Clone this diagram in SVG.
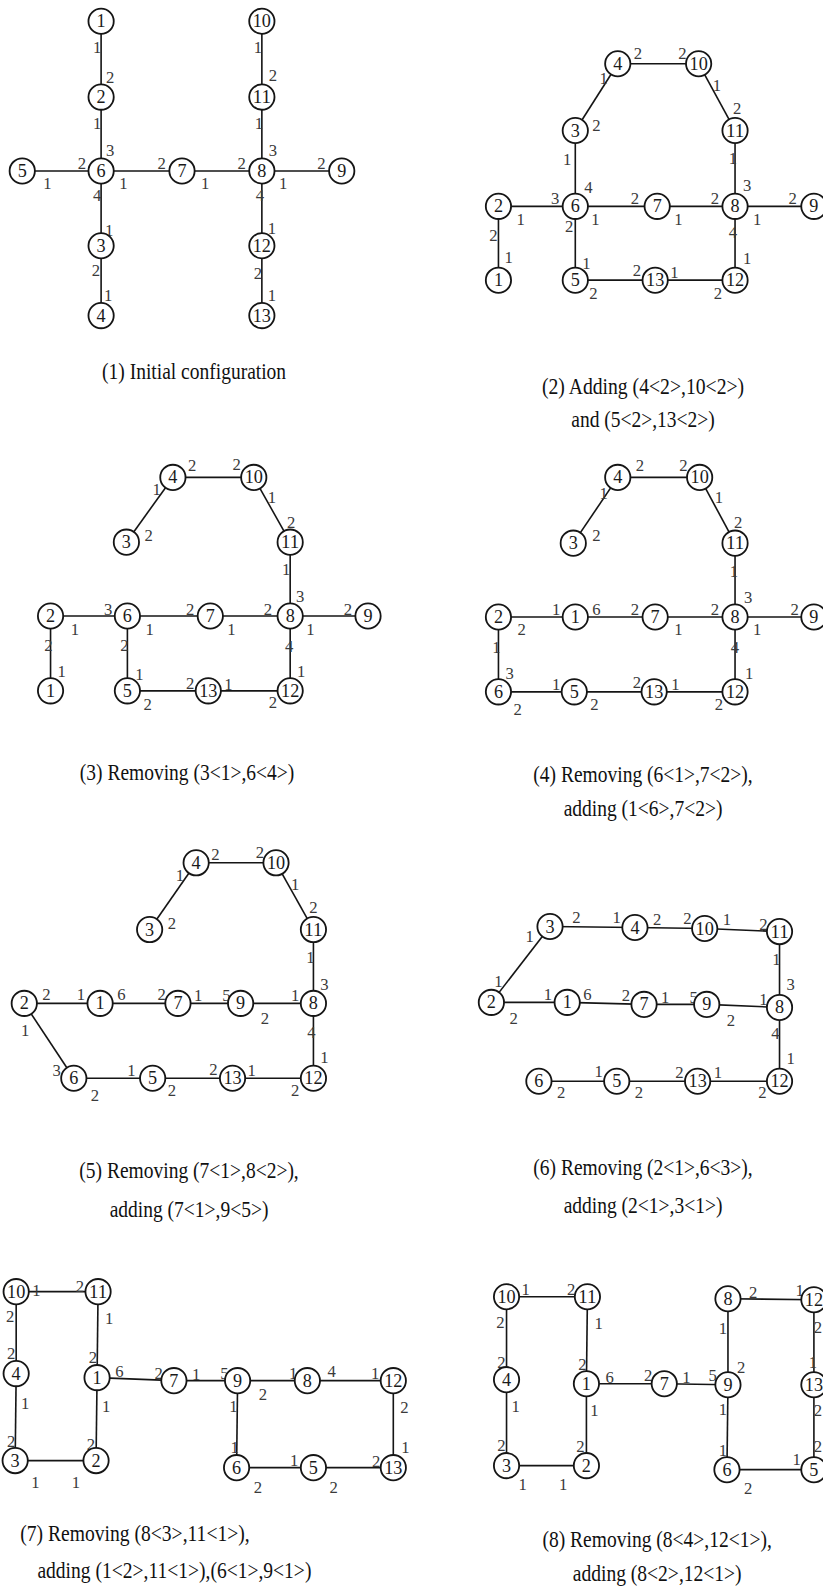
<svg xmlns="http://www.w3.org/2000/svg" width="823" height="1586" viewBox="0 0 823 1586">
<style>
  .e line { stroke:#151515; stroke-width:1.6; }
  .nd circle { fill:#fff; stroke:#151515; stroke-width:1.8; }
  .nd text { font-family:"Liberation Serif","Times New Roman",serif; font-size:18px; text-anchor:middle; fill:#1a1a1a; }
  .pt text { font-family:"Liberation Serif","Times New Roman",serif; font-size:16.5px; text-anchor:middle; fill:#3a3a3a; }
  .cap { font-family:"Liberation Serif","Times New Roman",serif; font-size:22px; fill:#111; text-anchor:middle; }
  .capl { font-family:"Liberation Serif","Times New Roman",serif; font-size:22px; fill:#111; text-anchor:start; }
</style>
<rect width="823" height="1586" fill="#fff"/>
<g transform="scale(1.01106,1.01148)">

<!-- ===== (1) Initial configuration ===== -->
<g id="p1-edges" class="e">
  <line x1="100" y1="21" x2="100" y2="96"/>
  <line x1="100" y1="96" x2="100" y2="169"/>
  <line x1="100" y1="169" x2="100" y2="243"/>
  <line x1="100" y1="243" x2="100" y2="312"/>
  <line x1="22" y1="169" x2="100" y2="169"/>
  <line x1="100" y1="169" x2="180" y2="169"/>
  <line x1="180" y1="169" x2="259" y2="169"/>
  <line x1="259" y1="169" x2="338" y2="169"/>
  <line x1="259" y1="21" x2="259" y2="96"/>
  <line x1="259" y1="96" x2="259" y2="169"/>
  <line x1="259" y1="169" x2="259" y2="243"/>
  <line x1="259" y1="243" x2="259" y2="312"/>
</g>
<g id="p1-ports" class="pt">
  <text x="96" y="52">1</text><text x="109" y="82">2</text>
  <text x="96" y="128">1</text><text x="109" y="154">3</text>
  <text x="96" y="199">4</text><text x="108" y="233">1</text>
  <text x="95" y="273">2</text><text x="107" y="298">1</text>
  <text x="47" y="187">1</text><text x="81" y="167">2</text>
  <text x="122" y="187">1</text><text x="160" y="167">2</text>
  <text x="203" y="187">1</text><text x="239" y="167">2</text>
  <text x="280" y="187">1</text><text x="318" y="167">2</text>
  <text x="255" y="52">1</text><text x="270" y="80">2</text>
  <text x="256" y="128">1</text><text x="270" y="154">3</text>
  <text x="257" y="199">4</text><text x="269" y="231">1</text>
  <text x="255" y="276">2</text><text x="269" y="298">1</text>
</g>
<g id="p1-n1" class="nd"><circle cx="100" cy="21" r="12.5"/><text x="100" y="27">1</text></g>
<g id="p1-n2" class="nd"><circle cx="100" cy="96" r="12.5"/><text x="100" y="102">2</text></g>
<g id="p1-n6" class="nd"><circle cx="100" cy="169" r="12.5"/><text x="100" y="175">6</text></g>
<g id="p1-n3" class="nd"><circle cx="100" cy="243" r="12.5"/><text x="100" y="249">3</text></g>
<g id="p1-n4" class="nd"><circle cx="100" cy="312" r="12.5"/><text x="100" y="318">4</text></g>
<g id="p1-n5" class="nd"><circle cx="22" cy="169" r="12.5"/><text x="22" y="175">5</text></g>
<g id="p1-n7" class="nd"><circle cx="180" cy="169" r="12.5"/><text x="180" y="175">7</text></g>
<g id="p1-n8" class="nd"><circle cx="259" cy="169" r="12.5"/><text x="259" y="175">8</text></g>
<g id="p1-n9" class="nd"><circle cx="338" cy="169" r="12.5"/><text x="338" y="175">9</text></g>
<g id="p1-n10" class="nd"><circle cx="259" cy="21" r="12.5"/><text x="259" y="27" textLength="18" lengthAdjust="spacingAndGlyphs">10</text></g>
<g id="p1-n11" class="nd"><circle cx="259" cy="96" r="12.5"/><text x="259" y="102" textLength="18" lengthAdjust="spacingAndGlyphs">11</text></g>
<g id="p1-n12" class="nd"><circle cx="259" cy="243" r="12.5"/><text x="259" y="249" textLength="18" lengthAdjust="spacingAndGlyphs">12</text></g>
<g id="p1-n13" class="nd"><circle cx="259" cy="312" r="12.5"/><text x="259" y="318" textLength="18" lengthAdjust="spacingAndGlyphs">13</text></g>
<text id="p1-caption" class="cap" x="192" y="375" textLength="182" lengthAdjust="spacingAndGlyphs">(1) Initial configuration</text>

<!-- ===== (2) Adding links ===== -->
<g id="p2-edges" class="e">
  <line x1="611" y1="63" x2="691" y2="63"/>
  <line x1="611" y1="63" x2="569" y2="129"/>
  <line x1="691" y1="63" x2="727" y2="129"/>
  <line x1="569" y1="129" x2="569" y2="204"/>
  <line x1="727" y1="129" x2="727" y2="204"/>
  <line x1="493" y1="204" x2="569" y2="204"/>
  <line x1="569" y1="204" x2="650" y2="204"/>
  <line x1="650" y1="204" x2="727" y2="204"/>
  <line x1="727" y1="204" x2="805" y2="204"/>
  <line x1="493" y1="204" x2="493" y2="277"/>
  <line x1="569" y1="204" x2="569" y2="277"/>
  <line x1="569" y1="277" x2="648" y2="277"/>
  <line x1="648" y1="277" x2="727" y2="277"/>
  <line x1="727" y1="204" x2="727" y2="277"/>
</g>
<g id="p2-ports" class="pt">
  <text x="631" y="58">2</text><text x="675" y="58">2</text>
  <text x="597" y="83">1</text><text x="709" y="90">1</text>
  <text x="729" y="113">2</text><text x="590" y="130">2</text>
  <text x="561" y="163">1</text><text x="582" y="191">4</text>
  <text x="549" y="202">3</text><text x="515" y="222">1</text>
  <text x="589" y="222">1</text><text x="628" y="202">2</text>
  <text x="671" y="222">1</text><text x="707" y="202">2</text>
  <text x="739" y="189">3</text><text x="725" y="162">1</text>
  <text x="749" y="222">1</text><text x="784" y="202">2</text>
  <text x="725" y="235">4</text><text x="739" y="261">1</text>
  <text x="488" y="238">2</text><text x="503" y="260">1</text>
  <text x="563" y="229">2</text><text x="580" y="266">1</text>
  <text x="587" y="296">2</text><text x="630" y="273">2</text>
  <text x="667" y="275">1</text><text x="710" y="296">2</text>
</g>
<g id="p2-n4" class="nd"><circle cx="611" cy="63" r="12.5"/><text x="611" y="69">4</text></g>
<g id="p2-n10" class="nd"><circle cx="691" cy="63" r="12.5"/><text x="691" y="69" textLength="18" lengthAdjust="spacingAndGlyphs">10</text></g>
<g id="p2-n3" class="nd"><circle cx="569" cy="129" r="12.5"/><text x="569" y="135">3</text></g>
<g id="p2-n11" class="nd"><circle cx="727" cy="129" r="12.5"/><text x="727" y="135" textLength="18" lengthAdjust="spacingAndGlyphs">11</text></g>
<g id="p2-n2" class="nd"><circle cx="493" cy="204" r="12.5"/><text x="493" y="210">2</text></g>
<g id="p2-n6" class="nd"><circle cx="569" cy="204" r="12.5"/><text x="569" y="210">6</text></g>
<g id="p2-n7" class="nd"><circle cx="650" cy="204" r="12.5"/><text x="650" y="210">7</text></g>
<g id="p2-n8" class="nd"><circle cx="727" cy="204" r="12.5"/><text x="727" y="210">8</text></g>
<g id="p2-n9" class="nd"><circle cx="805" cy="204" r="12.5"/><text x="805" y="210">9</text></g>
<g id="p2-n1" class="nd"><circle cx="493" cy="277" r="12.5"/><text x="493" y="283">1</text></g>
<g id="p2-n5" class="nd"><circle cx="569" cy="277" r="12.5"/><text x="569" y="283">5</text></g>
<g id="p2-n13" class="nd"><circle cx="648" cy="277" r="12.5"/><text x="648" y="283" textLength="18" lengthAdjust="spacingAndGlyphs">13</text></g>
<g id="p2-n12" class="nd"><circle cx="727" cy="277" r="12.5"/><text x="727" y="283" textLength="18" lengthAdjust="spacingAndGlyphs">12</text></g>
<text id="p2-caption-a" class="cap" x="636" y="390" textLength="200" lengthAdjust="spacingAndGlyphs">(2) Adding (4&lt;2&gt;,10&lt;2&gt;)</text>
<text id="p2-caption-b" class="cap" x="636" y="422" textLength="142" lengthAdjust="spacingAndGlyphs">and (5&lt;2&gt;,13&lt;2&gt;)</text>

<!-- ===== (3) Removing ===== -->
<g id="p3-edges" class="e">
  <line x1="171" y1="472" x2="251" y2="472"/>
  <line x1="171" y1="472" x2="125" y2="536"/>
  <line x1="251" y1="472" x2="287" y2="536"/>
  <line x1="287" y1="536" x2="287" y2="609"/>
  <line x1="50" y1="609" x2="126" y2="609"/>
  <line x1="126" y1="609" x2="208" y2="609"/>
  <line x1="208" y1="609" x2="287" y2="609"/>
  <line x1="287" y1="609" x2="364" y2="609"/>
  <line x1="50" y1="609" x2="50" y2="683"/>
  <line x1="126" y1="609" x2="126" y2="683"/>
  <line x1="126" y1="683" x2="206" y2="683"/>
  <line x1="206" y1="683" x2="287" y2="683"/>
  <line x1="287" y1="609" x2="287" y2="683"/>
</g>
<g id="p3-ports" class="pt">
  <text x="190" y="466">2</text><text x="234" y="465">2</text>
  <text x="155" y="489">1</text><text x="269" y="497">1</text>
  <text x="288" y="522">2</text><text x="147" y="535">2</text>
  <text x="283" y="568">1</text><text x="297" y="595">3</text>
  <text x="107" y="608">3</text><text x="74" y="628">1</text>
  <text x="148" y="628">1</text><text x="188" y="608">2</text>
  <text x="229" y="628">1</text><text x="265" y="608">2</text>
  <text x="307" y="628">1</text><text x="344" y="608">2</text>
  <text x="48" y="644">2</text><text x="61" y="669">1</text>
  <text x="123" y="644">2</text><text x="138" y="672">1</text>
  <text x="146" y="702">2</text><text x="188" y="681">2</text>
  <text x="226" y="682">1</text><text x="270" y="700">2</text>
  <text x="286" y="645">4</text><text x="298" y="669">1</text>
</g>
<g id="p3-n4" class="nd"><circle cx="171" cy="472" r="12.5"/><text x="171" y="478">4</text></g>
<g id="p3-n10" class="nd"><circle cx="251" cy="472" r="12.5"/><text x="251" y="478" textLength="18" lengthAdjust="spacingAndGlyphs">10</text></g>
<g id="p3-n3" class="nd"><circle cx="125" cy="536" r="12.5"/><text x="125" y="542">3</text></g>
<g id="p3-n11" class="nd"><circle cx="287" cy="536" r="12.5"/><text x="287" y="542" textLength="18" lengthAdjust="spacingAndGlyphs">11</text></g>
<g id="p3-n2" class="nd"><circle cx="50" cy="609" r="12.5"/><text x="50" y="615">2</text></g>
<g id="p3-n6" class="nd"><circle cx="126" cy="609" r="12.5"/><text x="126" y="615">6</text></g>
<g id="p3-n7" class="nd"><circle cx="208" cy="609" r="12.5"/><text x="208" y="615">7</text></g>
<g id="p3-n8" class="nd"><circle cx="287" cy="609" r="12.5"/><text x="287" y="615">8</text></g>
<g id="p3-n9" class="nd"><circle cx="364" cy="609" r="12.5"/><text x="364" y="615">9</text></g>
<g id="p3-n1" class="nd"><circle cx="50" cy="683" r="12.5"/><text x="50" y="689">1</text></g>
<g id="p3-n5" class="nd"><circle cx="126" cy="683" r="12.5"/><text x="126" y="689">5</text></g>
<g id="p3-n13" class="nd"><circle cx="206" cy="683" r="12.5"/><text x="206" y="689" textLength="18" lengthAdjust="spacingAndGlyphs">13</text></g>
<g id="p3-n12" class="nd"><circle cx="287" cy="683" r="12.5"/><text x="287" y="689" textLength="18" lengthAdjust="spacingAndGlyphs">12</text></g>
<text id="p3-caption" class="cap" x="185" y="771" textLength="212" lengthAdjust="spacingAndGlyphs">(3) Removing (3&lt;1&gt;,6&lt;4&gt;)</text>

<!-- ===== (4) Removing / adding ===== -->
<g id="p4-edges" class="e">
  <line x1="611" y1="472" x2="692" y2="472"/>
  <line x1="611" y1="472" x2="567" y2="537"/>
  <line x1="692" y1="472" x2="727" y2="537"/>
  <line x1="727" y1="537" x2="727" y2="610"/>
  <line x1="493" y1="610" x2="569" y2="610"/>
  <line x1="569" y1="610" x2="648" y2="610"/>
  <line x1="648" y1="610" x2="727" y2="610"/>
  <line x1="727" y1="610" x2="805" y2="610"/>
  <line x1="493" y1="610" x2="493" y2="684"/>
  <line x1="493" y1="684" x2="568" y2="684"/>
  <line x1="568" y1="684" x2="647" y2="684"/>
  <line x1="647" y1="684" x2="727" y2="684"/>
  <line x1="727" y1="610" x2="727" y2="684"/>
</g>
<g id="p4-ports" class="pt">
  <text x="633" y="466">2</text><text x="676" y="466">2</text>
  <text x="597" y="493">1</text><text x="711" y="497">1</text>
  <text x="730" y="522">2</text><text x="590" y="535">2</text>
  <text x="726" y="570">1</text><text x="740" y="596">3</text>
  <text x="550" y="608">1</text><text x="590" y="608">6</text>
  <text x="516" y="628">2</text><text x="628" y="608">2</text>
  <text x="671" y="628">1</text><text x="707" y="608">2</text>
  <text x="749" y="628">1</text><text x="786" y="608">2</text>
  <text x="491" y="646">1</text><text x="504" y="671">3</text>
  <text x="727" y="646">4</text><text x="741" y="671">1</text>
  <text x="550" y="682">1</text><text x="512" y="707">2</text>
  <text x="588" y="702">2</text><text x="630" y="680">2</text>
  <text x="668" y="682">1</text><text x="711" y="702">2</text>
</g>
<g id="p4-n4" class="nd"><circle cx="611" cy="472" r="12.5"/><text x="611" y="478">4</text></g>
<g id="p4-n10" class="nd"><circle cx="692" cy="472" r="12.5"/><text x="692" y="478" textLength="18" lengthAdjust="spacingAndGlyphs">10</text></g>
<g id="p4-n3" class="nd"><circle cx="567" cy="537" r="12.5"/><text x="567" y="543">3</text></g>
<g id="p4-n11" class="nd"><circle cx="727" cy="537" r="12.5"/><text x="727" y="543" textLength="18" lengthAdjust="spacingAndGlyphs">11</text></g>
<g id="p4-n2" class="nd"><circle cx="493" cy="610" r="12.5"/><text x="493" y="616">2</text></g>
<g id="p4-n1" class="nd"><circle cx="569" cy="610" r="12.5"/><text x="569" y="616">1</text></g>
<g id="p4-n7" class="nd"><circle cx="648" cy="610" r="12.5"/><text x="648" y="616">7</text></g>
<g id="p4-n8" class="nd"><circle cx="727" cy="610" r="12.5"/><text x="727" y="616">8</text></g>
<g id="p4-n9" class="nd"><circle cx="805" cy="610" r="12.5"/><text x="805" y="616">9</text></g>
<g id="p4-n6" class="nd"><circle cx="493" cy="684" r="12.5"/><text x="493" y="690">6</text></g>
<g id="p4-n5" class="nd"><circle cx="568" cy="684" r="12.5"/><text x="568" y="690">5</text></g>
<g id="p4-n13" class="nd"><circle cx="647" cy="684" r="12.5"/><text x="647" y="690" textLength="18" lengthAdjust="spacingAndGlyphs">13</text></g>
<g id="p4-n12" class="nd"><circle cx="727" cy="684" r="12.5"/><text x="727" y="690" textLength="18" lengthAdjust="spacingAndGlyphs">12</text></g>
<text id="p4-caption-a" class="cap" x="636" y="773" textLength="217" lengthAdjust="spacingAndGlyphs">(4) Removing (6&lt;1&gt;,7&lt;2&gt;),</text>
<text id="p4-caption-b" class="cap" x="636" y="807" textLength="157" lengthAdjust="spacingAndGlyphs">adding (1&lt;6&gt;,7&lt;2&gt;)</text>

<!-- ===== (5) Removing / adding ===== -->
<g id="p5-edges" class="e">
  <line x1="194" y1="853" x2="273" y2="853"/>
  <line x1="194" y1="853" x2="148" y2="919"/>
  <line x1="273" y1="853" x2="310" y2="919"/>
  <line x1="310" y1="919" x2="310" y2="992"/>
  <line x1="24" y1="992" x2="99" y2="992"/>
  <line x1="99" y1="992" x2="176" y2="992"/>
  <line x1="176" y1="992" x2="238" y2="992"/>
  <line x1="238" y1="992" x2="310" y2="992"/>
  <line x1="24" y1="992" x2="73" y2="1066"/>
  <line x1="73" y1="1066" x2="151" y2="1066"/>
  <line x1="151" y1="1066" x2="230" y2="1066"/>
  <line x1="230" y1="1066" x2="310" y2="1066"/>
  <line x1="310" y1="992" x2="310" y2="1066"/>
</g>
<g id="p5-ports" class="pt">
  <text x="213" y="850">2</text><text x="257" y="848">2</text>
  <text x="178" y="871">1</text><text x="292" y="880">1</text>
  <text x="310" y="903">2</text><text x="170" y="918">2</text>
  <text x="307" y="952">1</text><text x="321" y="979">3</text>
  <text x="46" y="989">2</text><text x="80" y="989">1</text>
  <text x="120" y="989">6</text><text x="160" y="989">2</text>
  <text x="196" y="990">1</text><text x="224" y="990">5</text>
  <text x="262" y="1012">2</text><text x="292" y="990">1</text>
  <text x="25" y="1024">1</text><text x="308" y="1026">4</text>
  <text x="321" y="1051">1</text><text x="56" y="1064">3</text>
  <text x="94" y="1089">2</text><text x="130" y="1064">1</text>
  <text x="170" y="1084">2</text><text x="211" y="1063">2</text>
  <text x="249" y="1064">1</text><text x="292" y="1084">2</text>
</g>
<g id="p5-n4" class="nd"><circle cx="194" cy="853" r="12.5"/><text x="194" y="859">4</text></g>
<g id="p5-n10" class="nd"><circle cx="273" cy="853" r="12.5"/><text x="273" y="859" textLength="18" lengthAdjust="spacingAndGlyphs">10</text></g>
<g id="p5-n3" class="nd"><circle cx="148" cy="919" r="12.5"/><text x="148" y="925">3</text></g>
<g id="p5-n11" class="nd"><circle cx="310" cy="919" r="12.5"/><text x="310" y="925" textLength="18" lengthAdjust="spacingAndGlyphs">11</text></g>
<g id="p5-n2" class="nd"><circle cx="24" cy="992" r="12.5"/><text x="24" y="998">2</text></g>
<g id="p5-n1" class="nd"><circle cx="99" cy="992" r="12.5"/><text x="99" y="998">1</text></g>
<g id="p5-n7" class="nd"><circle cx="176" cy="992" r="12.5"/><text x="176" y="998">7</text></g>
<g id="p5-n9" class="nd"><circle cx="238" cy="992" r="12.5"/><text x="238" y="998">9</text></g>
<g id="p5-n8" class="nd"><circle cx="310" cy="992" r="12.5"/><text x="310" y="998">8</text></g>
<g id="p5-n6" class="nd"><circle cx="73" cy="1066" r="12.5"/><text x="73" y="1072">6</text></g>
<g id="p5-n5" class="nd"><circle cx="151" cy="1066" r="12.5"/><text x="151" y="1072">5</text></g>
<g id="p5-n13" class="nd"><circle cx="230" cy="1066" r="12.5"/><text x="230" y="1072" textLength="18" lengthAdjust="spacingAndGlyphs">13</text></g>
<g id="p5-n12" class="nd"><circle cx="310" cy="1066" r="12.5"/><text x="310" y="1072" textLength="18" lengthAdjust="spacingAndGlyphs">12</text></g>
<text id="p5-caption-a" class="cap" x="187" y="1165" textLength="217" lengthAdjust="spacingAndGlyphs">(5) Removing (7&lt;1&gt;,8&lt;2&gt;),</text>
<text id="p5-caption-b" class="cap" x="187" y="1203" textLength="157" lengthAdjust="spacingAndGlyphs">adding (7&lt;1&gt;,9&lt;5&gt;)</text>

<!-- ===== (6) Removing / adding ===== -->
<g id="p6-edges" class="e">
  <line x1="486" y1="991" x2="544" y2="916"/>
  <line x1="544" y1="916" x2="628" y2="917"/>
  <line x1="628" y1="917" x2="697" y2="918"/>
  <line x1="697" y1="918" x2="771" y2="921"/>
  <line x1="771" y1="921" x2="771" y2="996"/>
  <line x1="486" y1="991" x2="561" y2="991"/>
  <line x1="561" y1="991" x2="637" y2="993"/>
  <line x1="637" y1="993" x2="699" y2="993"/>
  <line x1="699" y1="993" x2="771" y2="996"/>
  <line x1="533" y1="1069" x2="610" y2="1069"/>
  <line x1="610" y1="1069" x2="690" y2="1069"/>
  <line x1="690" y1="1069" x2="771" y2="1069"/>
  <line x1="771" y1="996" x2="771" y2="1069"/>
</g>
<g id="p6-ports" class="pt">
  <text x="524" y="931">1</text><text x="570" y="913">2</text>
  <text x="610" y="913">1</text><text x="650" y="915">2</text>
  <text x="680" y="914">2</text><text x="719" y="915">1</text>
  <text x="755" y="919">2</text><text x="493" y="976">1</text>
  <text x="542" y="989">1</text><text x="581" y="989">6</text>
  <text x="508" y="1012">2</text><text x="619" y="990">2</text>
  <text x="658" y="992">1</text><text x="686" y="992">5</text>
  <text x="723" y="1014">2</text><text x="755" y="994">1</text>
  <text x="768" y="954">1</text><text x="782" y="979">3</text>
  <text x="767" y="1027">4</text><text x="782" y="1052">1</text>
  <text x="555" y="1086">2</text><text x="592" y="1065">1</text>
  <text x="632" y="1086">2</text><text x="672" y="1066">2</text>
  <text x="710" y="1066">1</text><text x="754" y="1086">2</text>
</g>
<g id="p6-n3" class="nd"><circle cx="544" cy="916" r="12.5"/><text x="544" y="922">3</text></g>
<g id="p6-n4" class="nd"><circle cx="628" cy="917" r="12.5"/><text x="628" y="923">4</text></g>
<g id="p6-n10" class="nd"><circle cx="697" cy="918" r="12.5"/><text x="697" y="924" textLength="18" lengthAdjust="spacingAndGlyphs">10</text></g>
<g id="p6-n11" class="nd"><circle cx="771" cy="921" r="12.5"/><text x="771" y="927" textLength="18" lengthAdjust="spacingAndGlyphs">11</text></g>
<g id="p6-n2" class="nd"><circle cx="486" cy="991" r="12.5"/><text x="486" y="997">2</text></g>
<g id="p6-n1" class="nd"><circle cx="561" cy="991" r="12.5"/><text x="561" y="997">1</text></g>
<g id="p6-n7" class="nd"><circle cx="637" cy="993" r="12.5"/><text x="637" y="999">7</text></g>
<g id="p6-n9" class="nd"><circle cx="699" cy="993" r="12.5"/><text x="699" y="999">9</text></g>
<g id="p6-n8" class="nd"><circle cx="771" cy="996" r="12.5"/><text x="771" y="1002">8</text></g>
<g id="p6-n6" class="nd"><circle cx="533" cy="1069" r="12.5"/><text x="533" y="1075">6</text></g>
<g id="p6-n5" class="nd"><circle cx="610" cy="1069" r="12.5"/><text x="610" y="1075">5</text></g>
<g id="p6-n13" class="nd"><circle cx="690" cy="1069" r="12.5"/><text x="690" y="1075" textLength="18" lengthAdjust="spacingAndGlyphs">13</text></g>
<g id="p6-n12" class="nd"><circle cx="771" cy="1069" r="12.5"/><text x="771" y="1075" textLength="18" lengthAdjust="spacingAndGlyphs">12</text></g>
<text id="p6-caption-a" class="cap" x="636" y="1162" textLength="217" lengthAdjust="spacingAndGlyphs">(6) Removing (2&lt;1&gt;,6&lt;3&gt;),</text>
<text id="p6-caption-b" class="cap" x="636" y="1199" textLength="157" lengthAdjust="spacingAndGlyphs">adding (2&lt;1&gt;,3&lt;1&gt;)</text>

<!-- ===== (7) Removing / adding ===== -->
<g id="p7-edges" class="e">
  <line x1="16" y1="1277" x2="97" y2="1277"/>
  <line x1="16" y1="1277" x2="16" y2="1358"/>
  <line x1="16" y1="1358" x2="15" y2="1444"/>
  <line x1="15" y1="1444" x2="95" y2="1444"/>
  <line x1="95" y1="1444" x2="96" y2="1362"/>
  <line x1="96" y1="1362" x2="97" y2="1277"/>
  <line x1="96" y1="1362" x2="172" y2="1365"/>
  <line x1="172" y1="1365" x2="235" y2="1365"/>
  <line x1="235" y1="1365" x2="304" y2="1365"/>
  <line x1="304" y1="1365" x2="389" y2="1365"/>
  <line x1="389" y1="1365" x2="389" y2="1451"/>
  <line x1="235" y1="1365" x2="234" y2="1451"/>
  <line x1="234" y1="1451" x2="310" y2="1451"/>
  <line x1="310" y1="1451" x2="389" y2="1451"/>
</g>
<g id="p7-ports" class="pt">
  <text x="36" y="1281">1</text><text x="79" y="1277">2</text>
  <text x="10" y="1307">2</text><text x="108" y="1309">1</text>
  <text x="11" y="1344">2</text><text x="92" y="1348">2</text>
  <text x="118" y="1361">6</text><text x="157" y="1363">2</text>
  <text x="194" y="1364">1</text><text x="222" y="1363">5</text>
  <text x="260" y="1384">2</text><text x="290" y="1363">1</text>
  <text x="328" y="1361">4</text><text x="371" y="1363">1</text>
  <text x="25" y="1393">1</text><text x="105" y="1396">1</text>
  <text x="231" y="1396">1</text><text x="400" y="1397">2</text>
  <text x="11" y="1431">2</text><text x="90" y="1434">2</text>
  <text x="232" y="1437">1</text><text x="401" y="1437">1</text>
  <text x="291" y="1449">1</text><text x="372" y="1450">2</text>
  <text x="35" y="1471">1</text><text x="75" y="1471">1</text>
  <text x="255" y="1476">2</text><text x="330" y="1476">2</text>
</g>
<g id="p7-n10" class="nd"><circle cx="16" cy="1277" r="12.5"/><text x="16" y="1283" textLength="18" lengthAdjust="spacingAndGlyphs">10</text></g>
<g id="p7-n11" class="nd"><circle cx="97" cy="1277" r="12.5"/><text x="97" y="1283" textLength="18" lengthAdjust="spacingAndGlyphs">11</text></g>
<g id="p7-n4" class="nd"><circle cx="16" cy="1358" r="12.5"/><text x="16" y="1364">4</text></g>
<g id="p7-n1" class="nd"><circle cx="96" cy="1362" r="12.5"/><text x="96" y="1368">1</text></g>
<g id="p7-n7" class="nd"><circle cx="172" cy="1365" r="12.5"/><text x="172" y="1371">7</text></g>
<g id="p7-n9" class="nd"><circle cx="235" cy="1365" r="12.5"/><text x="235" y="1371">9</text></g>
<g id="p7-n8" class="nd"><circle cx="304" cy="1365" r="12.5"/><text x="304" y="1371">8</text></g>
<g id="p7-n12" class="nd"><circle cx="389" cy="1365" r="12.5"/><text x="389" y="1371" textLength="18" lengthAdjust="spacingAndGlyphs">12</text></g>
<g id="p7-n3" class="nd"><circle cx="15" cy="1444" r="12.5"/><text x="15" y="1450">3</text></g>
<g id="p7-n2" class="nd"><circle cx="95" cy="1444" r="12.5"/><text x="95" y="1450">2</text></g>
<g id="p7-n6" class="nd"><circle cx="234" cy="1451" r="12.5"/><text x="234" y="1457">6</text></g>
<g id="p7-n5" class="nd"><circle cx="310" cy="1451" r="12.5"/><text x="310" y="1457">5</text></g>
<g id="p7-n13" class="nd"><circle cx="389" cy="1451" r="12.5"/><text x="389" y="1457" textLength="18" lengthAdjust="spacingAndGlyphs">13</text></g>
<text id="p7-caption-a" class="capl" x="20" y="1524" textLength="227" lengthAdjust="spacingAndGlyphs">(7) Removing (8&lt;3&gt;,11&lt;1&gt;),</text>
<text id="p7-caption-b" class="capl" x="37" y="1560" textLength="271" lengthAdjust="spacingAndGlyphs">adding (1&lt;2&gt;,11&lt;1&gt;),(6&lt;1&gt;,9&lt;1&gt;)</text>

<!-- ===== (8) Removing / adding ===== -->
<g id="p8-edges" class="e">
  <line x1="501" y1="1282" x2="581" y2="1282"/>
  <line x1="501" y1="1282" x2="501" y2="1364"/>
  <line x1="501" y1="1364" x2="501" y2="1449"/>
  <line x1="501" y1="1449" x2="580" y2="1449"/>
  <line x1="580" y1="1449" x2="580" y2="1368"/>
  <line x1="580" y1="1368" x2="581" y2="1282"/>
  <line x1="580" y1="1368" x2="657" y2="1368"/>
  <line x1="657" y1="1368" x2="720" y2="1369"/>
  <line x1="720" y1="1369" x2="720" y2="1284"/>
  <line x1="720" y1="1284" x2="805" y2="1285"/>
  <line x1="805" y1="1285" x2="805" y2="1369"/>
  <line x1="805" y1="1369" x2="805" y2="1453"/>
  <line x1="720" y1="1369" x2="719" y2="1453"/>
  <line x1="719" y1="1453" x2="805" y2="1453"/>
</g>
<g id="p8-ports" class="pt">
  <text x="520" y="1280">1</text><text x="565" y="1280">2</text>
  <text x="495" y="1313">2</text><text x="592" y="1314">1</text>
  <text x="745" y="1283">2</text><text x="791" y="1281">1</text>
  <text x="715" y="1319">1</text><text x="809" y="1318">2</text>
  <text x="496" y="1352">2</text><text x="576" y="1354">2</text>
  <text x="603" y="1367">6</text><text x="641" y="1365">2</text>
  <text x="679" y="1367">1</text><text x="705" y="1365">5</text>
  <text x="733" y="1357">2</text><text x="804" y="1352">1</text>
  <text x="510" y="1396">1</text><text x="588" y="1400">1</text>
  <text x="715" y="1399">1</text><text x="809" y="1400">2</text>
  <text x="496" y="1435">2</text><text x="574" y="1436">2</text>
  <text x="715" y="1439">1</text><text x="788" y="1448">1</text>
  <text x="809" y="1436">2</text>
  <text x="517" y="1473">1</text><text x="557" y="1473">1</text>
  <text x="740" y="1477">2</text>
</g>
<g id="p8-n10" class="nd"><circle cx="501" cy="1282" r="12.5"/><text x="501" y="1288" textLength="18" lengthAdjust="spacingAndGlyphs">10</text></g>
<g id="p8-n11" class="nd"><circle cx="581" cy="1282" r="12.5"/><text x="581" y="1288" textLength="18" lengthAdjust="spacingAndGlyphs">11</text></g>
<g id="p8-n8" class="nd"><circle cx="720" cy="1284" r="12.5"/><text x="720" y="1290">8</text></g>
<g id="p8-n12" class="nd"><circle cx="805" cy="1285" r="12.5"/><text x="805" y="1291" textLength="18" lengthAdjust="spacingAndGlyphs">12</text></g>
<g id="p8-n4" class="nd"><circle cx="501" cy="1364" r="12.5"/><text x="501" y="1370">4</text></g>
<g id="p8-n1" class="nd"><circle cx="580" cy="1368" r="12.5"/><text x="580" y="1374">1</text></g>
<g id="p8-n7" class="nd"><circle cx="657" cy="1368" r="12.5"/><text x="657" y="1374">7</text></g>
<g id="p8-n9" class="nd"><circle cx="720" cy="1369" r="12.5"/><text x="720" y="1375">9</text></g>
<g id="p8-n13" class="nd"><circle cx="805" cy="1369" r="12.5"/><text x="805" y="1375" textLength="18" lengthAdjust="spacingAndGlyphs">13</text></g>
<g id="p8-n3" class="nd"><circle cx="501" cy="1449" r="12.5"/><text x="501" y="1455">3</text></g>
<g id="p8-n2" class="nd"><circle cx="580" cy="1449" r="12.5"/><text x="580" y="1455">2</text></g>
<g id="p8-n6" class="nd"><circle cx="719" cy="1453" r="12.5"/><text x="719" y="1459">6</text></g>
<g id="p8-n5" class="nd"><circle cx="805" cy="1453" r="12.5"/><text x="805" y="1459">5</text></g>
<text id="p8-caption-a" class="cap" x="650" y="1529" textLength="227" lengthAdjust="spacingAndGlyphs">(8) Removing (8&lt;4&gt;,12&lt;1&gt;),</text>
<text id="p8-caption-b" class="cap" x="650" y="1563" textLength="167" lengthAdjust="spacingAndGlyphs">adding (8&lt;2&gt;,12&lt;1&gt;)</text>

</g>
</svg>
